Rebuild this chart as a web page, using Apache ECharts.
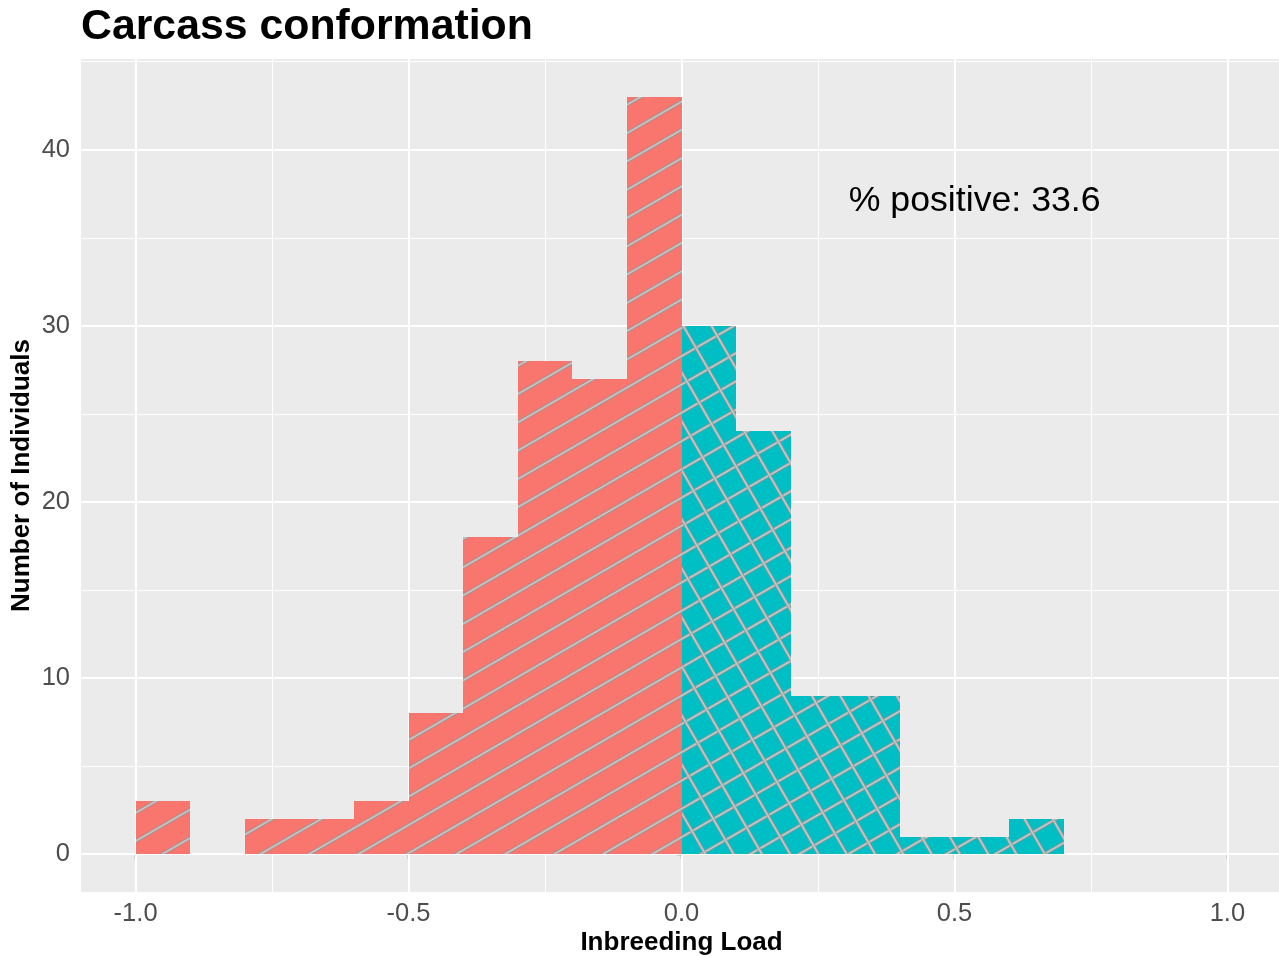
<!DOCTYPE html>
<html>
<head>
<meta charset="utf-8">
<script src="https://cdn.jsdelivr.net/npm/echarts@6/dist/echarts.min.js"></script>
<style>
html,body{margin:0;padding:0;background:#fff;}
#chart{width:1279px;height:957px;}
</style>
</head>
<body>
<div id="chart"></div>
<script>
// ---- data ----
const titleText = 'Carcass conformation';
const xAxisTitle = 'Inbreeding Load';
const yAxisTitle = 'Number of Individuals';
const binStarts = [-1.0, -0.9, -0.8, -0.7, -0.6, -0.5, -0.4, -0.3, -0.2, -0.1, 0.0, 0.1, 0.2, 0.3, 0.4, 0.5, 0.6];
const binWidth = 0.1;
const counts = [3, 0, 2, 2, 3, 8, 18, 28, 27, 43, 30, 24, 9, 9, 1, 1, 2];
const xTicks = [-1.0, -0.5, 0.0, 0.5, 1.0];
const xMinor = [-0.75, -0.25, 0.25, 0.75];
const yTicks = [0, 10, 20, 30, 40];
const yMinor = [5, 15, 25, 35, 45];
const annotation = { x: 0.537, y: 37.1, text: '% positive: 33.6' };

// ---- patterns ----
function makeTile() {
  const c = document.createElement('canvas');
  c.width = 8; c.height = 49;
  const ctx = c.getContext('2d');
  [12.25, 36.75].forEach(function (y) {
    ctx.beginPath(); ctx.moveTo(-2, y); ctx.lineTo(10, y);
    ctx.strokeStyle = '#8a8a8a'; ctx.lineWidth = 3.2; ctx.stroke();
    ctx.beginPath(); ctx.moveTo(-2, y); ctx.lineTo(10, y);
    ctx.strokeStyle = '#cccccc'; ctx.lineWidth = 1.8; ctx.stroke();
  });
  return c;
}
const tile = makeTile();
const patShallow = { image: tile, repeat: 'repeat', rotation: -Math.PI / 6 };
const patSteep = { image: tile, repeat: 'repeat', rotation: Math.PI / 3 };

const fillNeg = '#F8766D';
const fillPos = '#00BFC4';

const barData = binStarts.map(function (s, i) {
  return [s, +(s + binWidth).toFixed(2), counts[i], s < 0 ? 0 : 1];
});

const gridLines = [];
xTicks.forEach(v => gridLines.push({ xAxis: v, lineStyle: { width: 2.1 } }));
xMinor.forEach(v => gridLines.push({ xAxis: v, lineStyle: { width: 1.05 } }));
yTicks.forEach(v => gridLines.push({ yAxis: v, lineStyle: { width: 2.1 } }));
yMinor.forEach(v => gridLines.push({ yAxis: v, lineStyle: { width: 1.05 } }));

const FONT = '"Liberation Sans", Arial, sans-serif';

const chart = echarts.init(document.getElementById('chart'), null, { renderer: 'canvas' });
chart.setOption({
  animation: false,
  backgroundColor: '#ffffff',
  title: {
    text: titleText, left: 76, top: 1,
    textStyle: { fontFamily: FONT, fontSize: 42.8, fontWeight: 'bold', color: '#000' }
  },
  grid: { left: 81, top: 59, width: 1201, height: 833, show: true, backgroundColor: '#EBEBEB', borderWidth: 0,
    containLabel: false, outerBoundsMode: 'none' },
  xAxis: {
    type: 'value', min: -1.1, max: 1.1,
    name: xAxisTitle, nameLocation: 'middle', nameGap: 38, nameMoveOverlap: false,
    nameTextStyle: { fontFamily: FONT, fontSize: 26, fontWeight: 'bold', color: '#000' },
    axisLine: { show: false },
    axisTick: { show: true, customValues: xTicks, length: 5, lineStyle: { color: '#333', width: 1.3 } },
    axisLabel: { customValues: xTicks, margin: 9, fontFamily: FONT, fontSize: 25.5, color: '#4D4D4D',
      formatter: v => v.toFixed(1) },
    splitLine: { show: false }
  },
  yAxis: {
    type: 'value', min: -2.15, max: 45.15,
    name: yAxisTitle, nameLocation: 'middle', nameGap: 46, nameRotate: 90, nameMoveOverlap: false,
    nameTextStyle: { fontFamily: FONT, fontSize: 26, fontWeight: 'bold', color: '#000' },
    axisLine: { show: false },
    axisTick: { show: true, customValues: yTicks, length: 5, lineStyle: { color: '#333', width: 1.3 } },
    axisLabel: { customValues: yTicks, margin: 11, fontFamily: FONT, fontSize: 25.5, color: '#4D4D4D' },
    splitLine: { show: false }
  },
  series: [
    {
      type: 'line', data: [], silent: true, z: 1,
      markLine: {
        silent: true, symbol: 'none', z: 1, animation: false,
        label: { show: false },
        lineStyle: { color: '#ffffff', type: 'solid' },
        emphasis: { disabled: true },
        data: gridLines
      }
    },
    {
      type: 'custom', z: 3, silent: true,
      encode: { x: [0, 1], y: 2 },
      data: barData,
      renderItem: function (params, api) {
        const x0 = api.value(0), x1 = api.value(1), y = api.value(2), g = api.value(3);
        if (!(y > 0)) return null;
        const p0 = api.coord([x0, y]);
        const p1 = api.coord([x1, 0]);
        const l = Math.round(p0[0]), r = Math.round(p1[0]);
        const t = Math.round(p0[1]), b = Math.round(p1[1]);
        const shape = { x: l, y: t, width: r - l, height: b - t };
        const children = [{ type: 'rect', shape: shape, style: { fill: g === 0 ? fillNeg : fillPos } }];
        children.push({ type: 'rect', shape: shape, style: { fill: patShallow } });
        if (g === 1) children.push({ type: 'rect', shape: shape, style: { fill: patSteep } });
        return { type: 'group', children: children };
      }
    },
    {
      type: 'scatter', z: 4, silent: true, symbolSize: 1,
      itemStyle: { color: 'rgba(0,0,0,0)', opacity: 1 },
      data: [[annotation.x, annotation.y]],
      label: { show: true, position: 'inside', formatter: annotation.text, opacity: 1,
        fontFamily: FONT, fontSize: 35.7, color: '#000000' }
    }
  ]
});
</script>
</body>
</html>
